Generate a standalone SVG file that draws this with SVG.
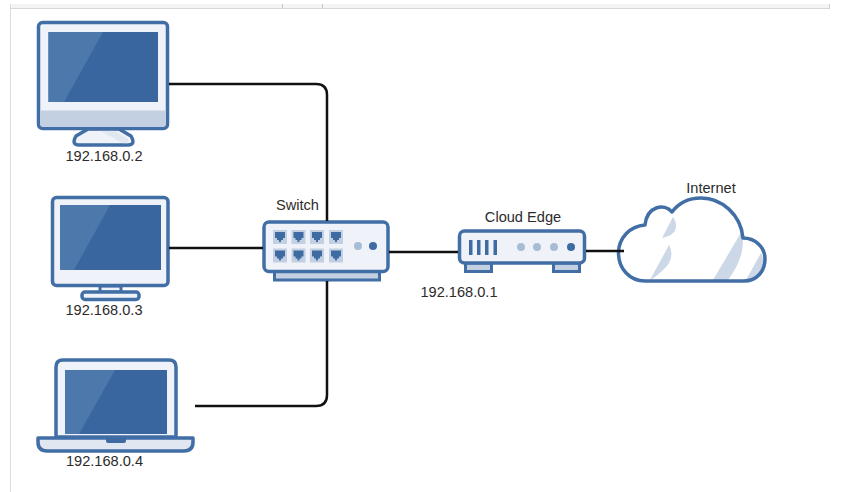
<svg xmlns="http://www.w3.org/2000/svg" width="864" height="492" viewBox="0 0 864 492">
<style>
.o{stroke:#426ea6;stroke-width:3.500;stroke-linejoin:round}
.f{fill:#eff3f9}
.b{fill:#c3d0e2}
.s{fill:#3a66a0}
.g{fill:#4d78ab}
.p{fill:#c3d0e2}
.q{fill:#3f6ba3}
.c{fill:none;stroke:#111;stroke-width:2.500}
text{font-family:"Liberation Sans",Arial,sans-serif;font-size:14.600px;fill:#2b2b2b;text-anchor:middle}
</style>
<rect width="864" height="492" fill="#fff"/>
<g id="chrome">
<rect x="10" y="4" width="819" height="4" fill="#f4f4f4"/>
<rect x="10" y="8" width="819" height="1" fill="#d8d8d8"/>
<rect x="829" y="4" width="1" height="5" fill="#d0d0d0"/>
<rect x="282" y="4" width="1" height="4" fill="#c8c8c8"/>
<rect x="322" y="4" width="1" height="4" fill="#c8c8c8"/>
<rect x="10" y="4" width="1" height="488" fill="#dcdcdc"/>
</g>
<g id="pc1">
<path class="o f" d="M88 129L76 136Q71 145 79 145H128Q136 145 131 136L119 129Z"/>
<path class="b" d="M100 130.500H114L128 139V143.500H123Z" fill-opacity=".35"/>
<rect class="o f" x="38.500" y="22.500" width="129" height="106" rx="4"/>
<path class="b" d="M40.300 110.500H165.700V123Q165.700 126.700 162 126.700H44Q40.300 126.700 40.300 123Z"/>
<rect class="s" x="48.500" y="32" width="109.500" height="70"/>
<path class="g" d="M48.500 32H103L64 102H48.500Z"/>
<text x="104" y="161">192.168.0.2</text>
</g>
<g id="pc2">
<rect class="f" x="100" y="286" width="21" height="6" stroke="#426ea6" stroke-width="3"/>
<rect class="o f" x="82" y="292" width="57" height="7.500" rx="3"/>
<rect class="o f" x="52.500" y="197.500" width="115.500" height="88" rx="4"/>
<rect class="s" x="60" y="205" width="101" height="65"/>
<path class="g" d="M60 205H110L74 270H60Z"/>
<text x="104" y="315">192.168.0.3</text>
</g>
<g id="laptop">
<path class="o f" d="M56 437V367Q56 360 63 360H169Q176 360 176 367V437Z"/>
<rect class="s" x="65" y="370" width="102" height="64"/>
<path class="g" d="M65 370H115L79 434H65Z"/>
<path class="o" fill="#e1e7f1" d="M38 438H193V442Q193 451 184 451H47Q38 451 38 442Z"/>
<path class="q" d="M106 438H126V441Q126 443 124 443H108Q106 443 106 441Z"/>
<text x="104.500" y="466">192.168.0.4</text>
</g>
<g id="switch">
<rect class="b" x="274.500" y="270" width="105" height="10" stroke="#426ea6" stroke-width="3"/>
<rect class="o f" x="264" y="222" width="124" height="49.500" rx="5"/>
<g id="ports">
<rect class="p" x="273" y="230" width="14" height="14"/><rect class="p" x="291.500" y="230" width="14" height="14"/><rect class="p" x="310" y="230" width="14" height="14"/><rect class="p" x="329" y="230" width="14" height="14"/>
<rect class="p" x="273" y="248.500" width="14" height="14"/><rect class="p" x="291.500" y="248.500" width="14" height="14"/><rect class="p" x="310" y="248.500" width="14" height="14"/><rect class="p" x="329" y="248.500" width="14" height="14"/>
<path class="q" d="M275 232h10v6h-2v2h-2v2h-2v-2h-2v-2h-2z"/><path class="q" d="M293.500 232h10v6h-2v2h-2v2h-2v-2h-2v-2h-2z"/><path class="q" d="M312 232h10v6h-2v2h-2v2h-2v-2h-2v-2h-2z"/><path class="q" d="M331 232h10v6h-2v2h-2v2h-2v-2h-2v-2h-2z"/>
<path class="q" d="M275 250.500h10v6h-2v2h-2v2h-2v-2h-2v-2h-2z"/><path class="q" d="M293.500 250.500h10v6h-2v2h-2v2h-2v-2h-2v-2h-2z"/><path class="q" d="M312 250.500h10v6h-2v2h-2v2h-2v-2h-2v-2h-2z"/><path class="q" d="M331 250.500h10v6h-2v2h-2v2h-2v-2h-2v-2h-2z"/>
</g>
<circle fill="#a9bcd6" cx="358" cy="246" r="4"/>
<circle class="q" cx="373" cy="246" r="4"/>
<text x="297.500" y="210">Switch</text>
</g>
<g id="router">
<rect class="b" x="465.500" y="263" width="26" height="8.500" stroke="#426ea6" stroke-width="3"/>
<rect class="b" x="553.500" y="263" width="26" height="8.500" stroke="#426ea6" stroke-width="3"/>
<rect class="o f" x="459.500" y="231" width="125" height="32" rx="5"/>
<rect class="q" x="469" y="240" width="3.500" height="15"/><rect class="q" x="477" y="240" width="3.500" height="15"/><rect class="q" x="485" y="240" width="3.500" height="15"/><rect class="q" x="493.500" y="240" width="3.500" height="15"/>
<circle fill="#a9bcd6" cx="521" cy="247" r="4"/><circle fill="#a9bcd6" cx="537" cy="247" r="4"/><circle fill="#a9bcd6" cx="554" cy="247" r="4"/><circle class="q" cx="571" cy="247" r="4"/>
<text x="523" y="222">Cloud Edge</text>
<text x="459" y="297">192.168.0.1</text>
</g>
<g id="cloud">
<path fill="#fff" d="M645 281H744C757 281 765 271 765 259C765 247 755 238 743 238C741 215 722 198 701 198C688 198 678 204 672 212C664 203 647 206 645 225C630 226 618.500 238 618.500 253C618.500 269 630 281 645 281Z"/>
<path fill="#ccd8e7" d="M673 217C677 222 677 230 673 233C670 236 666 237 662 238ZM669 245C673 253 672 260 666 267C661 272 656 277 650 280ZM742 231C745 249 740 264 728 280H713ZM761 253L746 280C757 280 765 268 763 258Z"/>
<path fill="none" stroke="#426ea6" stroke-width="3.500" stroke-linejoin="round" d="M645 281H744C757 281 765 271 765 259C765 247 755 238 743 238C741 215 722 198 701 198C688 198 678 204 672 212C664 203 647 206 645 225C630 226 618.500 238 618.500 253C618.500 269 630 281 645 281Z"/>
<text x="711" y="193">Internet</text>
</g>
<g id="connectors">
<path class="c" d="M169 84H316Q327 84 327 95V221"/>
<path class="c" d="M169 248H263"/>
<path class="c" d="M195 406H316Q327 406 327 395V281"/>
<path class="c" d="M389 252H458"/>
<path class="c" d="M586 251H624"/>
</g>
</svg>
